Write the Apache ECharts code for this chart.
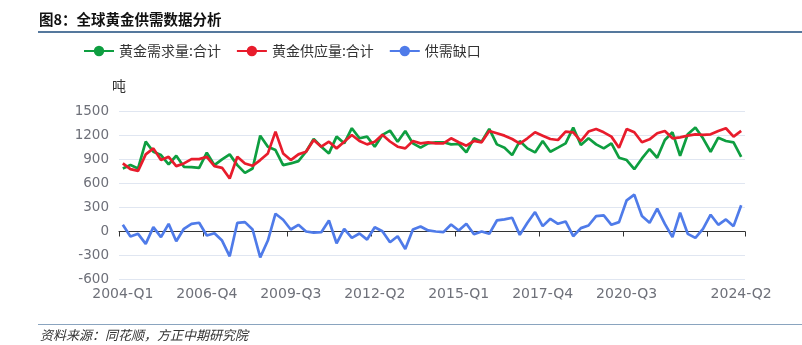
<!DOCTYPE html>
<html>
<head>
<meta charset="utf-8">
<script src="https://cdn.jsdelivr.net/npm/echarts@6/dist/echarts.min.js"></script>
<style>
html,body{margin:0;padding:0;background:#fff;}
#chart{width:802px;height:345px;}
</style>
</head>
<body>
<div id="chart"></div>
<script>
// Quarterly categories 2004-Q1 .. 2024-Q2
var years = [2004,2005,2006,2007,2008,2009,2010,2011,2012,2013,2014,2015,2016,2017,2018,2019,2020,2021,2022,2023,2024];
var quarters = ['Q1','Q2','Q3','Q4'];
var categories = [];
years.forEach(function (y) {
  quarters.forEach(function (q) {
    if (y === 2024 && (q === 'Q3' || q === 'Q4')) return;
    categories.push(y + '-' + q);
  });
});

// 黄金需求量:合计 (吨)
var demand = [
  788, 830, 788, 1123, 997, 955, 838, 947, 809, 804,
  796, 985, 830, 901, 964, 830, 733, 788, 1198, 1060,
  1018, 830, 851, 880, 997, 1156, 1060, 976, 1186, 1102,
  1291, 1165, 1186, 1060, 1207, 1261, 1123, 1257, 1102, 1048,
  1102, 1115, 1115, 1089, 1094, 989, 1165, 1123, 1282, 1089,
  1048, 955, 1131, 1039, 989, 1131, 997, 1048, 1102, 1299,
  1081, 1165, 1089, 1039, 1102, 922, 893, 779, 913, 1031,
  922, 1144, 1240, 947, 1215, 1299, 1165, 997, 1173, 1131,
  1115, 934
];

// 黄金供应量:合计 (吨)
var supply = [
  851, 779, 758, 964, 1039, 893, 934, 817, 851, 905,
  905, 934, 817, 796, 662, 934, 851, 821, 893, 976,
  1249, 976, 893, 964, 997, 1144, 1060, 1123, 1039, 1123,
  1207, 1131, 1089, 1123, 1210, 1125, 1060, 1039, 1131, 1102,
  1115, 1102, 1102, 1165, 1115, 1073, 1131, 1115, 1257, 1228,
  1198, 1156, 1098, 1165, 1240, 1198, 1156, 1144, 1249, 1240,
  1131, 1249, 1282, 1240, 1186, 1048, 1282, 1240, 1115, 1152,
  1228, 1257, 1165, 1177, 1198, 1215, 1207, 1215, 1257, 1291,
  1186, 1257
];

// 供需缺口 (吨)
var gap = [
  84, -63, -29, -155, 54, -71, 96, -122, 34, 96,
  109, -50, -21, -113, -310, 109, 117, 25, -323, -113,
  222, 147, 25, 84, 0, -13, -8, 138, -147, 34,
  -80, -25, -101, 54, 4, -134, -59, -218, 25, 63,
  13, 0, -8, 88, 13, 96, -34, 0, -29, 138,
  151, 172, -42, 109, 243, 67, 159, 96, 126, -59,
  42, 75, 193, 201, 84, 117, 390, 461, 193, 109,
  285, 96, -71, 235, -29, -80, 34, 210, 84, 151,
  67, 327
];

var yTicks = { min: -600, max: 1500, interval: 300 };
var seriesNames = ['黄金需求量:合计', '黄金供应量:合计', '供需缺口'];
var titleText = '图8：全球黄金供需数据分析';
var sourceText = '资料来源：同花顺，方正中期研究院';
var unitName = '吨';

var colors = ['#0e9e40', '#e81c2c', '#4f7be9'];
var cjk = '"Noto Sans CJK SC", sans-serif';
var latin = '"DejaVu Sans", sans-serif';

var chart = echarts.init(document.getElementById('chart'), null, { renderer: 'canvas' });

function lineSeries(name, data, color) {
  return {
    name: name,
    type: 'line',
    data: data,
    symbol: 'circle',
    symbolSize: 8,
    showSymbol: false,
    lineStyle: { width: 2.7, color: color },
    itemStyle: { color: color },
    emphasis: { disabled: true },
    animation: false
  };
}

chart.setOption({
  animation: false,
  color: colors,
  title: {
    text: titleText,
    left: 39,
    top: 12,
    padding: 0,
    textStyle: { fontFamily: cjk, fontSize: 14.5, fontWeight: 'bold', color: '#111' }
  },
  legend: {
    left: 83,
    top: 44,
    padding: 0,
    itemWidth: 30,
    itemHeight: 13,
    itemGap: 15,
    textStyle: { fontFamily: cjk, fontSize: 14, color: '#333' },
    data: seriesNames
  },
  grid: { left: 119, right: 57, top: 111.5, bottom: 65.5, containLabel: false },
  xAxis: {
    type: 'category',
    data: categories,
    boundaryGap: true,
    axisLine: { lineStyle: { color: '#333', width: 1 } },
    axisTick: {
      show: true,
      length: 5,
      interval: function (idx) { return idx % 11 === 0; },
      lineStyle: { color: '#333' }
    },
    axisLabel: {
      interval: function (idx) { return (idx % 11 === 0 && idx !== 77) || idx === categories.length - 1; },
      fontFamily: latin,
      fontSize: 14,
      color: '#6e7079',
      margin: 8
    },
    splitLine: { show: false }
  },
  yAxis: {
    type: 'value',
    min: yTicks.min,
    max: yTicks.max,
    interval: yTicks.interval,
    name: unitName,
    nameLocation: 'end',
    nameGap: 19,
    nameTextStyle: { fontFamily: cjk, fontSize: 14, color: '#333' },
    axisLine: { show: false },
    axisTick: { show: false },
    axisLabel: {
      fontFamily: latin, fontSize: 13.5, color: '#6e7079', margin: 10,
      formatter: function (v) { return String(v); }
    },
    splitLine: { lineStyle: { color: '#e0e6f1', width: 1 } }
  },
  series: [
    lineSeries(seriesNames[0], demand, colors[0]),
    lineSeries(seriesNames[1], supply, colors[1]),
    lineSeries(seriesNames[2], gap, colors[2])
  ],
  graphic: [
    {
      type: 'line',
      shape: { x1: 38, y1: 32, x2: 802, y2: 32 },
      style: { stroke: '#1d4b7c', lineWidth: 1.5 },
      silent: true
    },
    {
      type: 'line',
      shape: { x1: 38, y1: 324.5, x2: 802, y2: 324.5 },
      style: { stroke: '#8aa4bf', lineWidth: 1.2 },
      silent: true
    },
    {
      type: 'text',
      left: 40,
      top: 329,
      style: {
        text: sourceText,
        font: 'italic 13px "Noto Sans CJK SC", sans-serif',
        fill: '#333'
      },
      silent: true
    }
  ]
});
</script>
</body>
</html>
